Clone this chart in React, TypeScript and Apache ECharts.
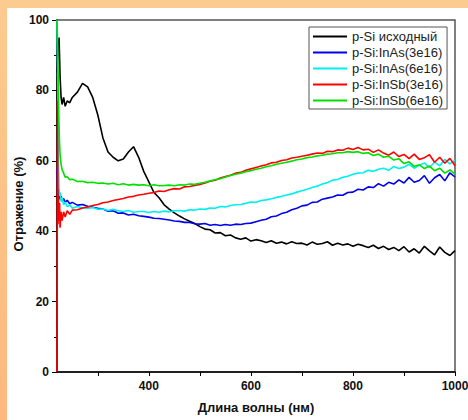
import React, { useEffect, useRef } from "react";
import * as echarts from "echarts";

const wavelengths = [
  220, 221, 222, 223, 224, 225, 226, 228, 230, 233, 236, 240, 245,
  250, 260, 270, 280, 290, 300, 310, 320, 330, 340, 350, 360, 370, 380, 390,
  400, 410, 420, 430, 440, 450, 460, 470, 480, 490, 500, 510, 520, 530, 540,
  550, 560, 570, 580, 590, 600, 610, 620, 630, 640, 650, 660, 670, 680, 690,
  700, 710, 720, 730, 740, 750, 760, 770, 780, 790, 800, 810, 820, 830, 840,
  850, 860, 870, 880, 890, 900, 910, 920, 930, 940, 950, 960, 970, 980, 990, 1000,
];

const pSi = [
  85, 88, 90, 92, 95, 90, 84, 78, 76, 78, 75.5, 77, 76.5,
  78, 79.5, 82, 81, 78, 73, 66.5, 62.5, 61, 60, 60.5, 62.5, 64, 61, 57,
  54, 51, 49.5, 47.5, 46.3, 45.2, 44.3, 43.5, 42.8, 42.2, 41.3, 40.6, 40.4, 39.5, 39.6,
  38.7, 38.9, 38.1, 37.7, 38.1, 37.2, 37.6, 37.3, 36.8, 37.3, 36.6, 36.9, 36.4, 37, 36.5,
  36.6, 36.1, 36.9, 36.3, 36.5, 37, 36, 36.6, 36.1, 36.4, 35.7, 36.3, 35.9, 35.4, 36,
  35.1, 35.7, 34.8, 35.4, 34.5, 35.6, 34.1, 35, 33.8, 35.7, 34.4, 33.3, 35.5, 34, 33.1, 34.5,
];

const inAs3 = [
  58, 53, 50, 52, 49.5, 51, 49, 50, 48.5, 49.3, 48.2, 48.8, 47.8,
  48.2, 47.4, 47.6, 47.1, 46.8, 46.5, 46.3, 45.7, 45.8, 45.1, 45.2, 44.6, 44.8, 44.4, 44.2,
  44, 43.7, 43.6, 43.4, 43.2, 42.9, 42.8, 42.5, 42.5, 42.1, 42, 42.2, 41.7, 41.9, 41.6,
  41.9, 41.7, 42, 41.9, 42.2, 42.3, 42.7, 43.1, 43.4, 44.1, 44.3, 45, 45.4, 46.1, 46.5,
  47.2, 47.4, 48.2, 48.3, 49.1, 49.4, 49.7, 50.3, 50.2, 51, 51.1, 51.9, 51.7, 52.6, 52.4,
  53.5, 52.8, 53.9, 53.4, 54.6, 53.7, 55.3, 53.9, 54.4, 55.8, 53.6, 55.2, 56.1, 54.3, 56.6, 55.4,
];

const inAs6 = [
  100, 100, 78, 58, 52, 50, 51, 48.5, 49.5, 47.5, 48.3, 47, 47.5,
  46.5, 47, 46.6, 46.5, 46.7, 46.2, 46.3, 45.9, 46.2, 45.8, 45.6, 45.9, 45.4, 45.6, 45.6,
  45.3, 45.6, 45.4, 45.7, 45.5, 45.8, 45.9, 45.7, 46.1, 46, 46.3, 46.2, 46.6, 46.5, 47,
  46.9, 47.3, 47.5, 47.6, 47.9, 48.3, 48.2, 48.7, 48.9, 49.2, 49.6, 49.9, 50.3, 50.6, 51.1,
  51.5, 51.9, 52.4, 52.8, 53.4, 53.8, 54.5, 54.7, 55.3, 55.6, 56.2, 56.5, 56.6, 57.3, 57,
  57.6, 57.9, 57.3, 58.4, 57.8, 58.2, 59, 57.9, 58.7, 59.4, 58.1, 59.6, 58.6, 60.4, 59.1, 60.2,
];

const inSb3 = [
  0, 77, 42, 50, 43, 48, 41, 45.5, 43, 45.5, 44, 45.8, 44.8,
  46, 46.1, 46.6, 46.9, 47.3, 47.6, 48.1, 48.3, 48.7, 49, 49.3, 49.7, 49.9, 50.3, 50.5,
  50.8, 51, 51.4, 51.3, 51.8, 52.1, 52, 52.6, 52.7, 53, 53.3, 53.7, 54.2, 54.5, 55.1,
  55.5, 55.9, 56.5, 56.7, 57.3, 57.7, 58.1, 58.5, 58.9, 59.4, 59.6, 60.1, 60.3, 60.8, 61,
  61.3, 61.6, 61.9, 62.2, 62.1, 62.7, 62.6, 63.1, 63, 63.6, 63.2, 63.8, 63.1, 63.3, 62.4,
  63.1, 62.2, 61.6, 62.5, 61.2, 61.8, 60.6, 61.9, 60.4, 60.9, 61.7, 59.6, 61, 59.3, 60.7, 58.6,
];

const inSb6 = [
  100, 100, 88, 76, 70, 65, 62, 59, 57.5, 56.5, 55.3, 55.5, 54.6,
  54.8, 54.1, 54.2, 53.8, 53.9, 53.6, 53.7, 53.4, 53.6, 53.2, 53.5, 53.1, 53.3, 53.1, 53.2,
  52.9, 53.2, 52.9, 53, 53.1, 52.9, 53.2, 53.1, 53.4, 53.3, 53.6, 53.9, 54.3, 54.6, 54.9,
  55.4, 55.8, 56.2, 56.5, 56.9, 57.2, 57.6, 57.9, 58.3, 58.6, 59, 59.3, 59.6, 59.9, 60.3,
  60.5, 60.9, 61.1, 61.4, 61.6, 61.9, 62, 62.3, 62.3, 62.6, 62.4, 62.6, 62.1, 62.3, 61.5,
  61.9, 61, 61.3, 60.2, 60.6, 59.2, 59.7, 58.4, 58.9, 57.8, 58.5, 57.2, 57.9, 56.5, 57.4, 56.2,
];

const seriesNames = [
  "p-Si исходный",
  "p-Si:InAs(3e16)",
  "p-Si:InAs(6e16)",
  "p-Si:InSb(3e16)",
  "p-Si:InSb(6e16)",
];
const seriesValues = [pSi, inAs3, inAs6, inSb3, inSb6];
const seriesColors = ["#000000", "#0000ee", "#00f0f0", "#ff0000", "#00e000"];

const xLabelValues = [400, 600, 800, 1000];
const xTickValues = [300, 400, 500, 600, 700, 800, 900, 1000];

const FONT = "'Liberation Sans', Arial, sans-serif";

export default function App() {
  const ref = useRef<HTMLDivElement>(null);

  useEffect(() => {
    if (!ref.current) return;
    const chart = echarts.init(ref.current, undefined, { renderer: "svg" });
    chart.setOption({
      animation: false,
      backgroundColor: "#ffffff",
      grid: {
        left: 50,
        top: 12,
        right: 13,
        bottom: 48,
        outerBoundsMode: "none",
        containLabel: false,
        show: true,
        borderColor: "#555555",
        borderWidth: 1.5,
        backgroundColor: "transparent",
      },
      legend: {
        orient: "vertical",
        left: 302,
        top: 19,
        padding: [3, 4, 2, 4],
        borderColor: "#555555",
        borderWidth: 1,
        backgroundColor: "#ffffff",
        icon: "rect",
        itemWidth: 34,
        itemHeight: 2,
        itemGap: 3,
        textStyle: { fontFamily: FONT, fontSize: 13, color: "#222" },
        data: seriesNames,
        z: 10,
      },
      xAxis: {
        type: "value",
        min: 220,
        max: 1000,
        name: "Длина волны (нм)",
        nameLocation: "middle",
        nameGap: 29,
        nameMoveOverlap: false,
        nameTextStyle: { fontFamily: FONT, fontSize: 13, fontWeight: "bold", color: "#111" },
        axisLine: { onZero: false, lineStyle: { color: "#000", width: 1.5 } },
        axisTick: { show: true, length: 4, customValues: xTickValues, lineStyle: { color: "#000", width: 1 } },
        axisLabel: {
          customValues: xLabelValues,
          formatter: (v: number) => String(v),
          margin: 8,
          fontFamily: FONT,
          fontSize: 12,
          fontWeight: "bold",
          color: "#111",
        },
        splitLine: { show: false },
      },
      yAxis: {
        type: "value",
        min: 0,
        max: 100,
        interval: 20,
        name: "Отражение (%)",
        nameLocation: "middle",
        nameRotate: 90,
        nameGap: 32,
        nameMoveOverlap: false,
        nameTextStyle: {
          fontFamily: FONT,
          fontSize: 13,
          fontWeight: "bold",
          color: "#111",
          padding: [0, 16, 0, 0],
        },
        axisLine: { show: true, onZero: false, lineStyle: { color: "#000", width: 1.5 } },
        axisTick: { show: true, length: 5, lineStyle: { color: "#000", width: 1 } },
        minorTick: { show: true, splitNumber: 2, length: 3, lineStyle: { color: "#000", width: 1 } },
        axisLabel: { margin: 8, fontFamily: FONT, fontSize: 12, fontWeight: "bold", color: "#111" },
        splitLine: { show: false },
      },
      series: seriesNames.map((name, i) => ({
        name,
        type: "line",
        symbol: "none",
        data: wavelengths.map((w, j) => [w, seriesValues[i][j]]),
        lineStyle: { color: seriesColors[i], width: 1.6 },
        itemStyle: { color: seriesColors[i] },
        z: 2 + i,
      })),
    });
    return () => chart.dispose();
  }, []);

  return (
    <div
      style={{
        position: "fixed",
        left: 0,
        top: 0,
        width: 468,
        height: 420,
        background: "linear-gradient(to bottom, #fccb8f, #fdb87e)",
      }}
    >
      <div
        ref={ref}
        style={{ position: "absolute", left: 7, top: 8, width: 461, height: 412, background: "#fff" }}
      />
    </div>
  );
}
